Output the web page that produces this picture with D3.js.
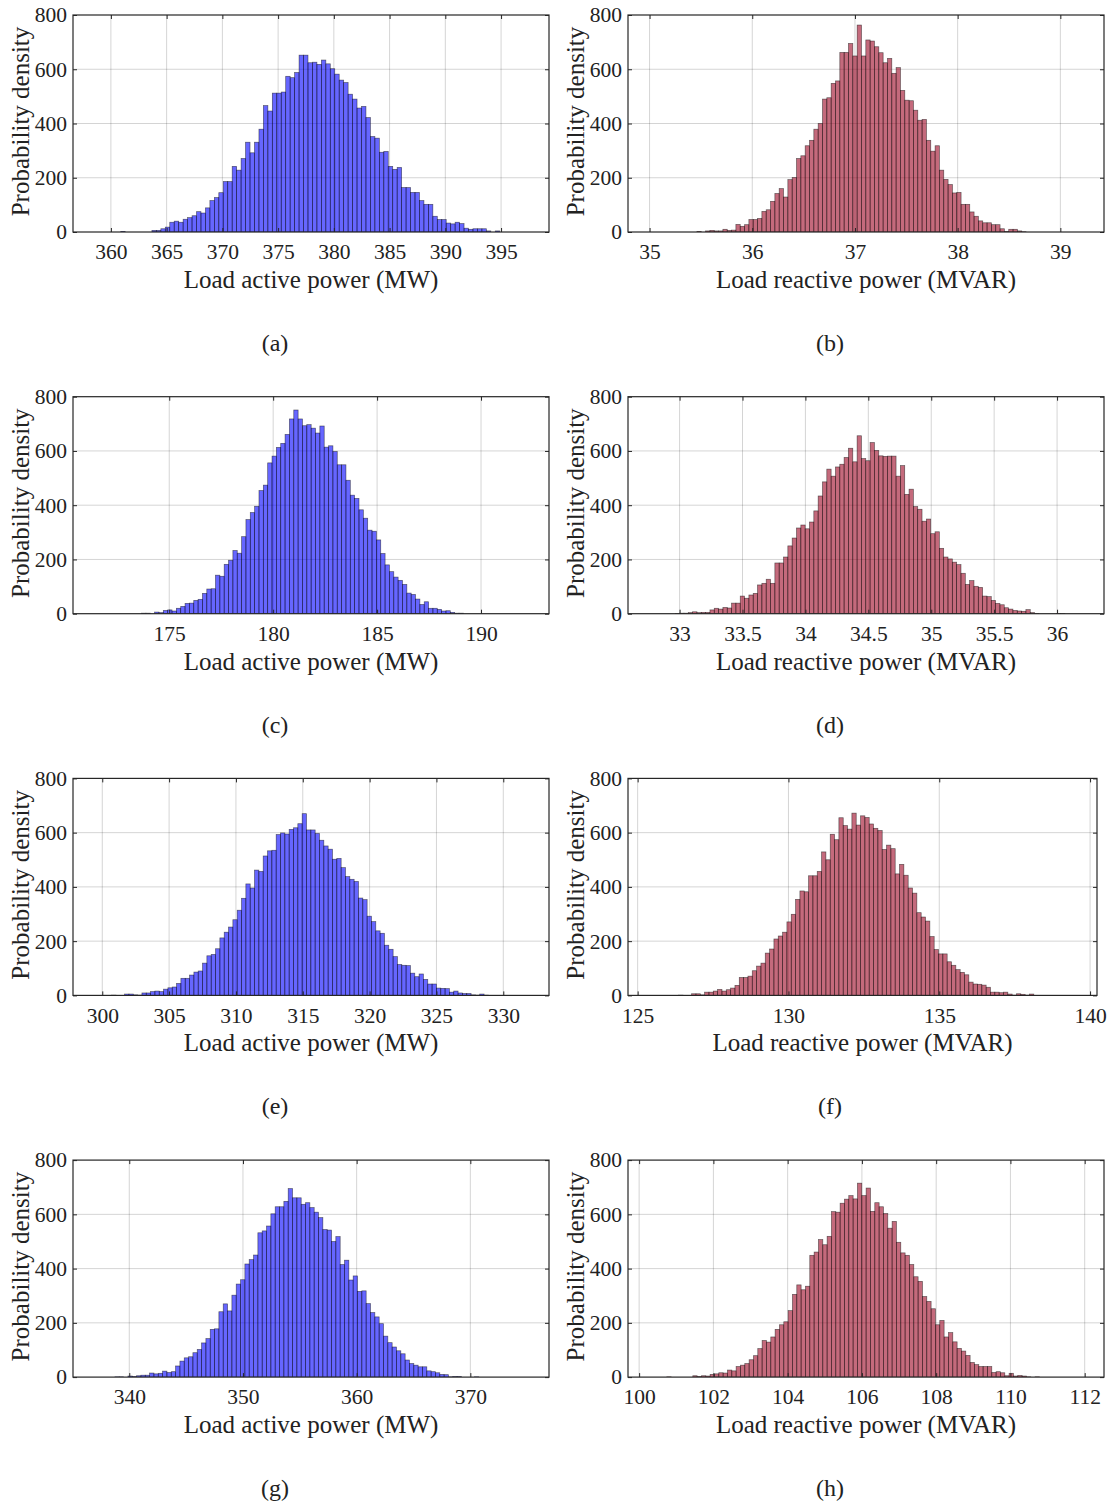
<!DOCTYPE html>
<html>
<head>
<meta charset="utf-8">
<script src="https://cdn.jsdelivr.net/npm/d3@7"></script>
<style>
  html, body { margin: 0; padding: 0; background: #fff; }
  svg text { font-family: "Liberation Serif", "Times New Roman", serif; fill: #222; }
</style>
</head>
<body>
<svg id="fig" width="1112" height="1510"></svg>
<script>
// ---- Histogram data: bin counts, first bin edge, bin width, tick values ----
const countsA = [2,0,0,0,0,0,0,
  6,6,12,18,36,40,36,47,53,60,75,70,89,116,127,145,186,186,242,228,271,331,292,331,379,466,446,512,512,516,574,569,588,652,652,624,626,618,634,620,602,582,560,551,508,490,457,463,422,352,346,294,297,242,231,238,164,164,146,146,116,102,102,58,46,46,33,30,36,31,14,10,12,12,12,4,0,4];
const binStartA = 360.88, binWidthA = 0.4;
const ticksA = [360,365,370,375,380,385,390,395];

const countsB = [2,0,4,6,4,4,10,6,7,28,21,27,46,46,50,76,82,113,142,160,129,193,201,271,281,318,338,379,400,490,495,548,557,662,662,695,649,763,649,708,704,683,661,624,640,585,606,522,486,484,449,412,415,338,298,318,228,194,175,144,146,102,102,74,58,41,34,34,27,27,12,2,10,10,4,1];
const binStartB = 35.461, binWidthB = 0.04217;
const ticksB = [35,36,37,38,39];

const countsC = [2,2,0,6,4,12,14,10,20,27,38,39,49,53,75,91,92,142,138,182,197,233,223,284,347,373,396,454,474,556,581,613,628,661,718,751,718,693,697,684,666,692,614,619,598,549,549,492,437,425,383,352,308,304,272,222,180,155,135,123,108,76,71,54,34,44,20,20,16,10,11,5,2,2];
const binStartC = 173.669, binWidthC = 0.2092;
const ticksC = [175,180,185,190];

const countsD = [1,2,2,4,7,4,5,5,14,20,17,23,21,39,39,65,57,69,75,106,112,127,112,187,187,209,250,279,316,327,313,338,379,434,486,533,507,541,551,576,610,560,656,572,564,631,602,582,580,581,581,507,546,440,459,395,385,341,349,295,302,241,209,202,190,181,149,108,122,101,97,65,63,49,38,33,22,17,12,10,9,15,4,1,0,0,0,0,1,1];
const binStartD = 32.966, binWidthD = 0.0344;
const ticksD = [33,33.5,34,34.5,35,35.5,36];

const countsE = [1,0,0,5,5,2,1,9,9,14,16,14,23,28,31,44,63,63,75,86,90,119,146,151,172,212,233,252,279,314,358,411,396,462,457,514,533,535,593,599,595,612,618,633,670,610,610,597,572,551,539,502,505,471,438,428,420,359,353,292,272,238,229,185,170,143,114,111,110,82,69,79,59,42,42,27,26,25,12,16,9,7,7,2,1,5,1];
const binStartE = 300.698, binWidthE = 0.324;
const ticksE = [300,305,310,315,320,325,330];

const countsF = [1,0,0,6,6,2,12,12,16,22,16,21,27,37,66,66,71,91,108,119,156,171,208,219,233,271,299,354,385,382,441,441,457,529,500,594,574,655,626,613,672,628,662,656,632,616,608,538,554,541,448,483,443,396,377,305,289,274,217,169,153,153,124,111,95,85,76,49,42,41,38,30,12,12,10,12,5,1,6,4,1,5];
const binStartF = 126.359, binWidthF = 0.1436;
const ticksF = [125,130,135,140];

const countsG = [1,1,0,4,2,5,7,7,15,12,14,22,17,20,41,59,71,75,90,102,126,142,176,178,241,270,244,302,343,359,417,433,450,532,539,557,602,628,628,648,695,661,661,637,643,625,608,588,544,542,500,518,415,431,358,373,316,318,271,238,222,197,151,127,111,97,86,63,50,44,38,38,23,20,16,10,9,1,2,2,0,0,0,1];
const binStartG = 338.739, binWidthG = 0.381;
const ticksG = [340,350,360,370];

const countsH = [1,0,0,0,0,0,5,2,5,4,10,12,16,15,26,23,39,44,50,64,79,105,135,129,148,176,193,204,245,305,340,322,335,449,461,507,488,519,610,608,641,656,669,657,715,669,697,611,643,628,603,549,574,497,458,449,415,370,353,297,279,252,193,209,148,164,130,106,96,80,54,46,39,39,39,17,20,16,5,14,4,6,4,1,0,1];
const binStartH = 100.745, binWidthH = 0.1167;
const ticksH = [100,102,104,106,108,110,112];

const densityTicks = [0,200,400,600,800];
const activeLabel = "Load active power (MW)";
const reactiveLabel = "Load reactive power (MVAR)";
const panelTags = ["(a)","(b)","(c)","(d)","(e)","(f)","(g)","(h)"];

// ---- Figure layout ----
const BLUE = "#0000ff", RED = "rgb(157,7,37)";
const panels = [
  {counts: countsA, start: binStartA, width: binWidthA, ticks: ticksA, domain: [356.6, 399.3],  label: activeLabel,   color: BLUE, row: 0, col: 0},
  {counts: countsB, start: binStartB, width: binWidthB, ticks: ticksB, domain: [34.79, 39.425], label: reactiveLabel, color: RED,  row: 0, col: 1},
  {counts: countsC, start: binStartC, width: binWidthC, ticks: ticksC, domain: [170.37, 193.27],label: activeLabel,   color: BLUE, row: 1, col: 0},
  {counts: countsD, start: binStartD, width: binWidthD, ticks: ticksD, domain: [32.59, 36.373], label: reactiveLabel, color: RED,  row: 1, col: 1},
  {counts: countsE, start: binStartE, width: binWidthE, ticks: ticksE, domain: [297.81, 333.42],label: activeLabel,   color: BLUE, row: 2, col: 0},
  {counts: countsF, start: binStartF, width: binWidthF, ticks: ticksF, domain: [124.68, 140.23],label: reactiveLabel, color: RED,  row: 2, col: 1, right: 1097},
  {counts: countsG, start: binStartG, width: binWidthG, ticks: ticksG, domain: [335.05, 376.92],label: activeLabel,   color: BLUE, row: 3, col: 0},
  {counts: countsH, start: binStartH, width: binWidthH, ticks: ticksH, domain: [99.70, 112.52], label: reactiveLabel, color: RED,  row: 3, col: 1}
];
const colX = [{x0: 73, x1: 549, cx: 275}, {x0: 628, x1: 1104, cx: 830}];
const rowTop = r => 15 + r * 381.7;
const plotH = 217;
const AXIS = "#262626";
const TICK_LEN = 4;

const svg = d3.select("#fig");

panels.forEach((p, i) => {
  const c = colX[p.col];
  const x0 = c.x0, x1 = p.right || c.x1;
  const top = rowTop(p.row), bottom = top + plotH;

  const x = d3.scaleLinear().domain(p.domain).range([x0, x1]);
  const y = d3.scaleLinear().domain([0, 800]).range([bottom, top]);

  const g = svg.append("g");
  const clipId = "clip" + i;
  g.append("clipPath").attr("id", clipId)
    .append("rect").attr("x", x0).attr("y", top).attr("width", x1 - x0).attr("height", plotH);

  // grid
  const grid = g.append("g").attr("stroke", "#000").attr("stroke-opacity", 0.17).attr("stroke-width", 1);
  grid.selectAll("line.v").data(p.ticks).join("line")
    .attr("x1", d => x(d)).attr("x2", d => x(d)).attr("y1", top).attr("y2", bottom);
  grid.selectAll("line.h").data(densityTicks.slice(1, -1)).join("line")
    .attr("x1", x0).attr("x2", x1).attr("y1", d => y(d)).attr("y2", d => y(d));

  // histogram bars
  const bins = p.counts.map((v, k) => ({lo: p.start + k * p.width, hi: p.start + (k + 1) * p.width, v}))
    .filter(b => b.v > 0);
  g.append("g").attr("clip-path", `url(#${clipId})`)
    .selectAll("rect").data(bins).join("rect")
    .attr("x", b => x(b.lo)).attr("width", b => x(b.hi) - x(b.lo))
    .attr("y", b => y(b.v)).attr("height", b => y(0) - y(b.v))
    .attr("fill", p.color).attr("fill-opacity", 0.6)
    .attr("stroke", "#000").attr("stroke-opacity", 0.55).attr("stroke-width", 0.7);

  // axes with inward ticks on all sides
  const xb = g.append("g").attr("transform", `translate(0,${bottom})`)
    .call(d3.axisBottom(x).tickValues(p.ticks).tickSize(-TICK_LEN).tickPadding(12).tickFormat(d3.format("")));
  const xt = g.append("g").attr("transform", `translate(0,${top})`)
    .call(d3.axisTop(x).tickValues(p.ticks).tickSize(-TICK_LEN).tickFormat(""));
  const yl = g.append("g").attr("transform", `translate(${x0},0)`)
    .call(d3.axisLeft(y).tickValues(densityTicks).tickSize(-TICK_LEN).tickPadding(6));
  const yr = g.append("g").attr("transform", `translate(${x1},0)`)
    .call(d3.axisRight(y).tickValues(densityTicks).tickSize(-TICK_LEN).tickFormat(""));
  [xb, xt, yl, yr].forEach(a => {
    a.selectAll(".domain").remove();
    a.selectAll(".tick line").attr("stroke", AXIS).attr("stroke-width", 1);
  });
  xb.selectAll(".tick text").attr("font-size", 21.5).attr("font-family", "Liberation Serif, serif").attr("fill", "#222");
  yl.selectAll(".tick text").attr("font-size", 21.5).attr("font-family", "Liberation Serif, serif").attr("fill", "#222");

  // box
  g.append("rect").attr("x", x0).attr("y", top).attr("width", x1 - x0).attr("height", plotH)
    .attr("fill", "none").attr("stroke", AXIS).attr("stroke-width", 1.2);

  // axis titles
  g.append("text").attr("x", (x0 + x1) / 2).attr("y", bottom + 56)
    .attr("text-anchor", "middle").attr("font-size", 25).text(p.label);
  g.append("text")
    .attr("transform", `translate(${x0 - 44},${(top + bottom) / 2 - 2}) rotate(-90)`)
    .attr("text-anchor", "middle").attr("font-size", 25).text("Probability density");

  // sub-figure tag
  g.append("text").attr("x", c.cx).attr("y", bottom + 119)
    .attr("text-anchor", "middle").attr("font-size", 24).text(panelTags[i]);
});
</script>
</body>
</html>
